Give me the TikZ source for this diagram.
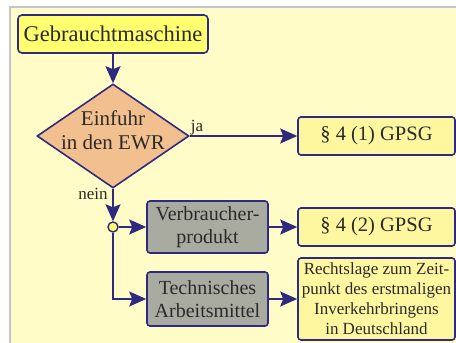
\documentclass[tikz,border=0pt]{standalone}
\usepackage{fontspec}
\setmainfont{Liberation Serif}
\usetikzlibrary{shapes.geometric,arrows.meta}
\definecolor{bgyel}{HTML}{FFFCC8}
\definecolor{navy}{HTML}{2E2A80}
\definecolor{hiyel}{HTML}{FFFF70}
\definecolor{paleyel}{HTML}{FFF7A0}
\definecolor{orng}{HTML}{F2C08E}
\definecolor{grbox}{HTML}{A9ABA0}
\definecolor{txt}{HTML}{2A2A2A}
\definecolor{frame}{HTML}{C4C4CC}
\tikzset{
  box/.style={draw=navy, line width=1.6pt, rounded corners=3pt, inner sep=0pt, align=center, text=txt},
  startbox/.style={box, fill=hiyel, rounded corners=4pt, font=\fontsize{22.5}{26}\selectfont},
  lawbox/.style={box, fill=paleyel, font=\fontsize{20.5}{24}\selectfont},
  graybox/.style={box, fill=grbox, font=\fontsize{20}{23}\selectfont},
  decision/.style={diamond, draw=navy, line width=1.6pt, fill=orng, inner sep=0pt},
  conn/.style={draw=navy, line width=1.8pt, -{Stealth[length=17pt,width=15pt,inset=3pt]}},
  lbl/.style={text=txt, font=\fontsize{17}{20}\selectfont, inner sep=0pt}
}
\begin{document}
\begin{tikzpicture}[x=1pt,y=-1pt]
\useasboundingbox (0,0) rectangle (456,343);
\clip (0,0) rectangle (456,343);
\fill[white] (0,0) rectangle (456,343);
\draw[frame, line width=2pt, fill=bgyel] (10,7) rectangle (470,360);

\node[startbox, minimum width=190pt, minimum height=38pt] (start) at (113,34) {Gebrauchtmaschine};
\node[decision, minimum width=152pt, minimum height=104pt] (dec) at (113,136) {};
\node[text=txt, align=center, inner sep=0pt, font=\fontsize{21}{24}\selectfont] (dectext) at (113,130) {Einfuhr\\in den EWR};
\node[lawbox, minimum width=157pt, minimum height=38pt] (p41) at (376.5,136) {\S\ 4 (1) GPSG};
\node[circle, draw=navy, line width=1.4pt, fill=hiyel, minimum size=10pt, inner sep=0pt] (circ) at (113,227) {};
\node[graybox, minimum width=121pt, minimum height=52pt] (vp) at (207.5,227) {Verbraucher-\\produkt};
\node[graybox, minimum width=121pt, minimum height=54pt] (ta) at (207.5,299) {Technisches\\Arbeitsmittel};
\node[lawbox, minimum width=157pt, minimum height=38pt] (p42) at (376.5,227) {\S\ 4 (2) GPSG};
\node[box, fill=paleyel, minimum width=157pt, minimum height=82pt, font=\fontsize{17}{20}\selectfont] (rl) at (376.5,299) {Rechtslage zum Zeit-\\punkt des erstmaligen\\Inverkehrbringens\\in Deutschland};

\node[lbl, anchor=base] (ja) at (197,131) {ja};
\node[lbl, anchor=base] (nein) at (93,199) {nein};

\draw[conn] (start.south) -- (dec.north);
\draw[conn] (dec.east) -- (p41.west);
\draw[conn] (dec.south) -- (circ.north);
\draw[conn] (circ.east) -- (vp.west);
\draw[conn] (circ.south) |- (ta.west);
\draw[conn] (vp.east) -- (p42.west);
\draw[conn] (ta.east) -- (rl.west);
\end{tikzpicture}
\end{document}
